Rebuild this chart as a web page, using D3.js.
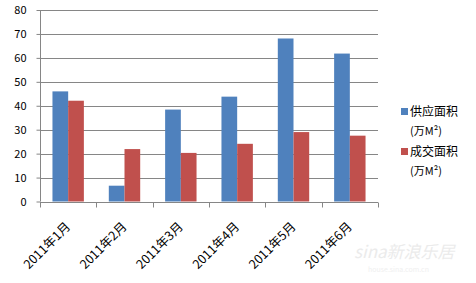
<!DOCTYPE html>
<html><head><meta charset="utf-8">
<script src="https://cdn.jsdelivr.net/npm/d3@7"></script>
<style>body{margin:0;background:#fff}svg{display:block}</style>
</head><body>
<script>
const categories = ["2011年1月","2011年2月","2011年3月","2011年4月","2011年5月","2011年6月"];
const supply = [46, 6.6, 38.4, 43.8, 68.1, 61.8];
const deal = [42.1, 21.9, 20.3, 24.1, 29.0, 27.5];
const seriesNames = ["供应面积", "成交面积"];
const seriesUnit = "(万M²)";
const yTicks = [0,10,20,30,40,50,60,70,80];
const colors = ["#4f81bd", "#c0504d"];

const W = 476, H = 283;
const svg = d3.select("body").append("svg").attr("width", W).attr("height", H);
const font = "'Noto Sans CJK SC', 'DejaVu Sans', sans-serif";

const x0 = 40, x1 = 378, yTop = 10, yBot = 201.5;
const x = d3.scaleBand().domain(categories).range([x0, x1]).paddingInner(0).paddingOuter(0);
const y = d3.scaleLinear().domain([0, 80]).range([yBot, yTop]);
const bw = 15.7;

// gridlines
svg.append("g").selectAll("line").data(yTicks.filter(t => t > 0)).join("line")
  .attr("x1", x0).attr("x2", x1)
  .attr("y1", d => Math.round(y(d)) + 0.5).attr("y2", d => Math.round(y(d)) + 0.5)
  .attr("stroke", "#868686").attr("stroke-width", 1);

// bars
const data = categories.map((c, i) => ({c, v: [supply[i], deal[i]]}));
data.forEach(d => {
  d.v.forEach((v, k) => {
    const cx = x(d.c) + x.bandwidth() / 2;
    svg.append("rect")
      .attr("x", cx - bw + k * bw).attr("width", bw)
      .attr("y", y(v)).attr("height", yBot - y(v))
      .attr("fill", colors[k]);
  });
});

// y axis
const yAxis = d3.axisLeft(y).tickValues(yTicks).tickSize(4).tickPadding(10);
const gy = svg.append("g").attr("transform", `translate(${x0 + 0.5},0)`).call(yAxis);
gy.select(".domain").attr("stroke", "#868686").attr("d", `M0,${yTop}V${yBot}`);
gy.selectAll(".tick line").attr("stroke", "#868686");
gy.selectAll(".tick text").attr("font-family", font).attr("font-size", 11).attr("fill", "#000");

// x axis
const gx = svg.append("g").attr("transform", `translate(0,${Math.round(yBot) + 0.5})`);
gx.append("line").attr("x1", x0).attr("x2", x1).attr("stroke", "#868686");
const tickPos = categories.map(c => x(c)).concat([x1]);
gx.selectAll("line.tk").data(tickPos).join("line").attr("class", "tk")
  .attr("x1", d => Math.round(d) + 0.5).attr("x2", d => Math.round(d) + 0.5)
  .attr("y1", 0).attr("y2", 5).attr("stroke", "#868686");
gx.selectAll("text").data(categories).join("text")
  .attr("transform", d => `translate(${x(d) + x.bandwidth() / 2 + 3},25) rotate(-45)`)
  .attr("text-anchor", "end").attr("font-family", font).attr("font-size", 12.5)
  .attr("fill", "#000").text(d => d);

// legend
const lg = svg.append("g");
[[108, 0], [148, 1]].forEach(([ly, k]) => {
  lg.append("rect").attr("x", 401).attr("y", ly).attr("width", 7).attr("height", 7).attr("fill", colors[k]);
  lg.append("text").attr("x", 410).attr("y", ly + 8).attr("font-family", font).attr("font-size", 12)
    .attr("fill", "#000").text(seriesNames[k]);
  lg.append("text").attr("x", 410).attr("y", ly + 27).attr("font-family", font).attr("font-size", 11)
    .attr("fill", "#000").text(seriesUnit);
});

// watermark
svg.append("text").attr("x", 354).attr("y", 258).attr("font-family", font).attr("font-size", 17)
  .attr("font-style", "italic").attr("fill", "#ebebeb").text("sina新浪乐居");
svg.append("text").attr("x", 368).attr("y", 272).attr("font-family", font).attr("font-size", 7)
  .attr("fill", "#efefef").text("house.sina.com.cn");
</script>
</body></html>
